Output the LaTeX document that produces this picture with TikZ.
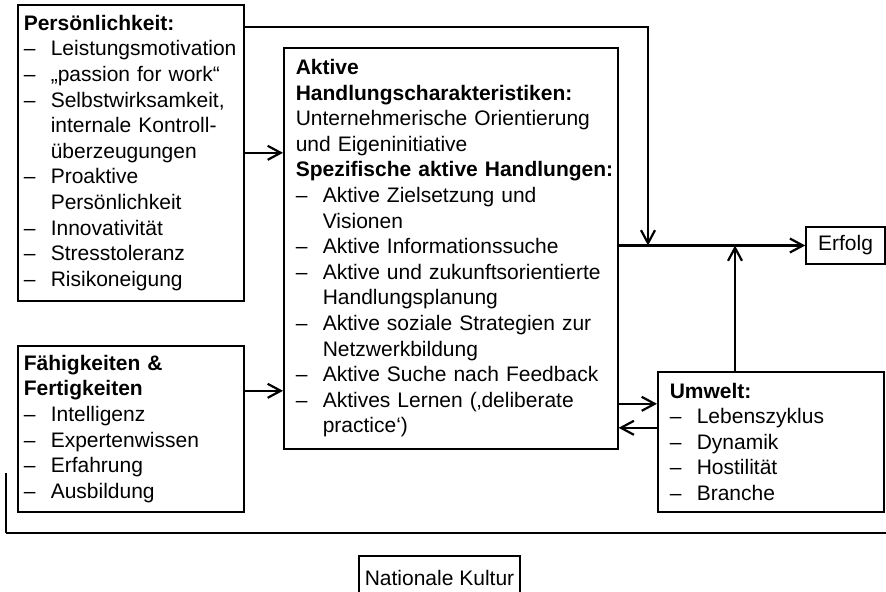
\documentclass[tikz,border=0pt]{standalone}
\usepackage{fontspec}
\setmainfont{Liberation Sans}
\usetikzlibrary{arrows.meta}
\hyphenpenalty=10000
\exhyphenpenalty=10000
\newcommand{\itemdash}{\makebox[13.5pt][l]{–}}
\newcommand{\itemcont}{\hspace*{13.5pt}}
\begin{document}
\begin{tikzpicture}[x=0.5pt,y=-0.5pt,>={Straight Barb[length=6.5pt,width=7pt]},
  font=\fontsize{10.5pt}{12.8pt}\selectfont,
  blk/.style={draw,line width=0.8pt,align=left,anchor=north west,inner ysep=0pt},
  lbl/.style={draw,line width=0.8pt,inner sep=0pt},
  arr/.style={->,line width=1.1pt}]
\useasboundingbox (0,0) rectangle (886,591);
\node[blk,text width=107pt,inner xsep=3pt,minimum height=148pt] (pers) at (17,4) {\textbf{Persönlichkeit:}\\ \itemdash Leistungsmotivation\\ \itemdash „passion for work“\\ \itemdash Selbstwirksamkeit,\\ \itemcont internale Kontroll-\\ \itemcont überzeugungen\\ \itemdash Proaktive\\ \itemcont Persönlichkeit\\ \itemdash Innovativität\\ \itemdash Stresstoleranz\\ \itemdash Risikoneigung};
\node[blk,text width=107pt,inner xsep=3pt,minimum height=83pt] (fae) at (17,345) {\textbf{Fähigkeiten \&}\\ \textbf{Fertigkeiten}\\ \itemdash Intelligenz\\ \itemdash Expertenwissen\\ \itemdash Erfahrung\\ \itemdash Ausbildung};
\node[blk,text width=155pt,inner xsep=6pt,minimum height=200.5pt] (akt) at (283,47) {\textbf{Aktive}\\ \textbf{Handlungscharakteristiken:}\\ Unternehmerische Orientierung\\ und Eigeninitiative\\ \mbox{\textbf{Spezifische aktive Handlungen:}}\\ \itemdash Aktive Zielsetzung und\\ \itemcont Visionen\\ \itemdash Aktive Informationssuche\\ \itemdash Aktive und zukunftsorientierte\\ \itemcont Handlungsplanung\\ \itemdash Aktive soziale Strategien zur\\ \itemcont Netzwerkbildung\\ \itemdash Aktive Suche nach Feedback\\ \itemdash Aktives Lernen (‚deliberate\\ \itemcont practice‘)};
\node[blk,text width=101pt,inner xsep=6pt,minimum height=70pt] (umw) at (657,371) {\textbf{Umwelt:}\\ \itemdash Lebenszyklus\\ \itemdash Dynamik\\ \itemdash Hostilität\\ \itemdash Branche};
\node[lbl,minimum width=39.5pt,minimum height=18.5pt] (erf) at (845.5,245.5) {Erfolg};
\node[lbl,anchor=north,minimum width=80.5pt,minimum height=22pt] (kul) at (439.5,555) {Nationale Kultur};
% Verbindungen
\coordinate (jp) at (648,245.5);
\coordinate (ju) at (735,245.5);
\coordinate (fa) at ([yshift=19pt]fae.east);
\coordinate (u1) at ([yshift=19pt]umw.west);
\coordinate (u2) at ([yshift=7pt]umw.west);
\draw[arr] ([yshift=-11.5pt]pers.north east) -| (jp);
\draw[arr] (pers.east) -- (pers.east -| akt.west);
\draw[arr] (fa) -- (fa -| akt.west);
\draw[arr] (akt.east |- erf.west) -- (erf.west);
\draw[arr] (umw.north -| ju) -- (ju);
\draw[arr] (u1 -| akt.east) -- (u1);
\draw[arr] (u2) -- (u2 -| akt.east);
% Klammer Nationale Kultur
\coordinate (kl) at (6,473);
\coordinate (kr) at (890,533);
\draw[line width=0.7pt] (kl) -- (kl |- kr);
\draw[line width=1.4pt] (kl |- kr) -- (kr);
\end{tikzpicture}
\end{document}
